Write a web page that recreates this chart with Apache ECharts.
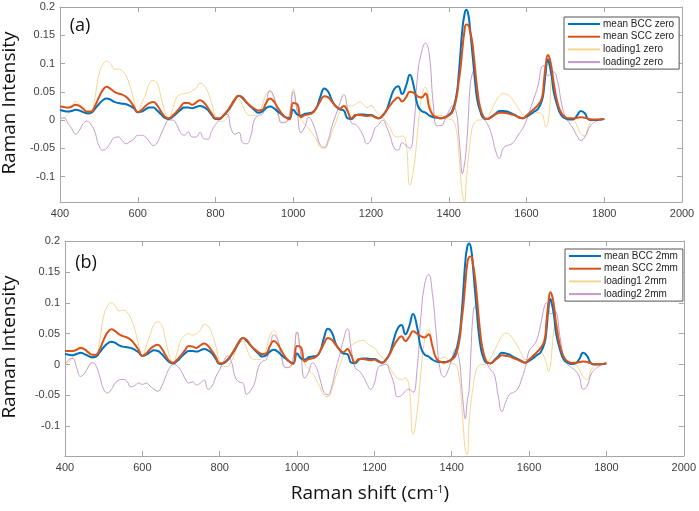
<!DOCTYPE html>
<html><head><meta charset="utf-8">
<script src="https://cdn.jsdelivr.net/npm/echarts@6/dist/echarts.min.js"></script>
<style>html,body{margin:0;padding:0;background:#fff}#c{width:699px;height:511px}</style>
</head><body><div id="c"></div>
<script>
// Raman shift grid (cm-1)
const shift = [
400,410,420,430,440,450,460,470,480,490,
500,510,520,530,540,550,560,570,580,590,
600,610,620,630,640,650,660,670,680,690,
700,710,720,730,740,750,760,770,780,790,
800,810,820,830,840,850,860,870,880,890,
900,910,920,930,940,950,960,970,980,990,
1000,1010,1020,1030,1040,1050,1060,1070,1080,1090,
1100,1110,1120,1130,1140,1150,1160,1170,1180,1190,
1200,1210,1220,1230,1240,1250,1260,1270,1280,1290,
1300,1310,1320,1330,1340,1350,1360,1370,1380,1390,
1400,1410,1420,1425,1430,1435,1440,1445,1450,1455,
1460,1465,1470,1475,1480,1490,
1500,1510,1520,1530,1540,1550,1560,1570,1580,1590,
1600,1610,1620,1630,1640,1645,1650,1655,1660,1665,
1670,1680,1690,1700,1710,1720,1730,1740,1750,1760,1770,1780,1790,1800];

// (a) zero
const meanBCCzero = [
0.018,0.016,0.015,0.016,0.018,0.017,0.014,0.012,0.013,0.020,
0.028,0.035,0.038,0.036,0.032,0.030,0.029,0.028,0.025,0.021,
0.014,0.015,0.019,0.022,0.022,0.017,0.010,0.004,0.002,0.006,
0.012,0.018,0.022,0.022,0.021,0.023,0.025,0.023,0.018,0.009,
0.002,0.002,0.007,0.015,0.025,0.036,0.043,0.038,0.031,0.024,
0.018,0.013,0.015,0.021,0.024,0.021,0.015,0.010,0.005,0.003,
0.018,0.010,0.008,0.011,0.012,0.014,0.022,0.042,0.056,0.050,
0.034,0.024,0.019,0.017,0.003,0.002,0.008,0.010,0.010,0.009,
0.009,0.006,0.003,0.008,0.018,0.038,0.055,0.060,0.046,0.060,
0.080,0.060,0.026,0.016,0.013,0.008,0.005,0.004,0.003,0.005,
0.009,0.018,0.045,0.075,0.118,0.160,0.185,0.195,0.188,0.160,
0.124,0.088,0.053,0.030,0.018,0.003,
0.002,0.006,0.011,0.016,0.016,0.015,0.012,0.009,0.005,0.003,
0.006,0.010,0.015,0.020,0.035,0.056,0.090,0.107,0.095,0.077,
0.050,0.024,0.008,0.003,0.001,0.001,0.008,0.016,0.012,0.001,0.000,0.000,0.001,0.002];
const meanSCCzero = [
0.024,0.023,0.022,0.024,0.027,0.025,0.020,0.015,0.015,0.025,
0.040,0.053,0.059,0.055,0.050,0.047,0.045,0.041,0.034,0.024,
0.014,0.018,0.025,0.030,0.032,0.026,0.015,0.006,0.003,0.008,
0.015,0.023,0.030,0.030,0.027,0.031,0.035,0.031,0.022,0.012,
0.003,0.003,0.008,0.016,0.026,0.037,0.043,0.040,0.031,0.025,
0.020,0.017,0.018,0.030,0.038,0.033,0.022,0.012,0.005,0.001,
0.030,0.028,0.005,0.009,0.010,0.013,0.022,0.034,0.042,0.040,
0.032,0.024,0.020,0.025,0.015,0.003,0.009,0.009,0.008,0.007,
0.008,0.005,0.003,0.008,0.017,0.027,0.035,0.040,0.033,0.040,
0.050,0.048,0.042,0.040,0.047,0.022,0.008,0.005,0.003,0.005,
0.008,0.015,0.040,0.065,0.090,0.125,0.155,0.169,0.168,0.156,
0.140,0.110,0.075,0.045,0.025,0.005,
0.002,0.005,0.010,0.013,0.013,0.012,0.010,0.008,0.005,0.003,
0.008,0.014,0.020,0.027,0.040,0.070,0.100,0.115,0.108,0.090,
0.065,0.030,0.012,0.005,0.003,0.003,0.004,0.005,0.004,0.002,0.001,0.001,0.001,0.002];
const loading1zero = [
0.001,0.004,0.010,0.022,0.033,0.028,0.015,0.010,0.012,0.040,
0.080,0.098,0.104,0.100,0.090,0.090,0.087,0.078,0.060,0.035,
0.013,0.030,0.045,0.065,0.070,0.065,0.040,0.015,0.003,0.020,
0.040,0.045,0.047,0.048,0.052,0.056,0.065,0.062,0.050,0.030,
0.005,-0.002,-0.002,0.005,0.020,0.032,0.037,0.025,0.012,0.008,
0.008,0.012,0.025,0.045,0.050,0.038,0.012,-0.003,-0.004,0.010,
0.055,0.020,0.002,-0.008,-0.015,-0.025,-0.035,-0.048,-0.050,-0.040,
-0.020,-0.003,0.015,0.025,0.025,0.025,0.028,0.032,0.028,0.022,
0.026,0.018,0.010,0.005,-0.005,-0.015,-0.028,-0.030,-0.028,-0.040,
-0.115,-0.085,-0.020,0.040,0.058,0.035,0.012,0.008,0.008,0.005,
0.002,0.000,-0.020,-0.050,-0.095,-0.130,-0.145,-0.110,-0.070,-0.038,
-0.015,-0.006,-0.002,0.000,0.000,0.002,
0.005,0.018,0.032,0.042,0.047,0.045,0.040,0.030,0.020,0.010,
0.006,0.010,0.012,0.013,0.010,0.000,-0.012,-0.005,0.025,0.075,
0.070,0.025,0.010,0.004,0.001,0.000,-0.010,-0.025,-0.028,-0.010,-0.002,0.000,0.001,0.002];
const loading2zero = [
0.003,0.004,-0.005,-0.015,-0.025,-0.018,-0.006,-0.002,-0.008,-0.022,
-0.045,-0.053,-0.050,-0.040,-0.031,-0.030,-0.036,-0.042,-0.038,-0.034,
-0.027,-0.027,-0.030,-0.038,-0.045,-0.040,-0.025,-0.010,0.000,0.000,
-0.008,-0.022,-0.027,-0.021,-0.030,-0.030,-0.022,-0.033,-0.034,-0.020,
-0.008,0.000,0.008,0.010,-0.015,-0.025,-0.022,-0.040,-0.042,-0.030,
0.000,0.008,0.010,0.030,0.052,0.042,0.015,-0.005,-0.004,0.008,
0.050,0.015,-0.022,-0.012,0.005,-0.005,-0.025,-0.045,-0.048,-0.035,
-0.010,0.010,0.030,0.045,0.020,-0.005,-0.008,-0.015,-0.028,-0.042,
-0.035,-0.015,-0.008,0.000,-0.012,-0.030,-0.050,-0.053,-0.040,-0.045,
-0.050,-0.012,0.080,0.120,0.136,0.115,0.030,-0.010,-0.010,0.000,
0.015,0.025,0.012,-0.020,-0.060,-0.095,-0.080,-0.050,0.000,0.060,
0.080,0.088,0.075,0.050,0.020,0.003,
-0.008,-0.025,-0.053,-0.068,-0.050,-0.045,-0.043,-0.036,-0.025,-0.015,
0.000,0.020,0.040,0.062,0.095,0.096,0.090,0.078,0.080,0.085,
0.085,0.068,0.030,0.005,-0.005,-0.015,-0.028,-0.036,-0.030,-0.015,-0.006,-0.002,0.000,0.001];

// (b) 2mm
const meanBCC2mm = [
0.017,0.016,0.015,0.017,0.019,0.017,0.014,0.012,0.013,0.020,
0.028,0.034,0.037,0.035,0.031,0.029,0.028,0.027,0.024,0.020,
0.014,0.016,0.020,0.023,0.022,0.017,0.010,0.004,0.002,0.006,
0.012,0.018,0.022,0.022,0.021,0.023,0.025,0.023,0.018,0.009,
0.001,0.002,0.007,0.015,0.025,0.036,0.043,0.038,0.031,0.024,
0.018,0.013,0.015,0.021,0.024,0.021,0.015,0.010,0.005,0.002,
0.018,0.010,0.008,0.012,0.013,0.014,0.022,0.044,0.058,0.052,
0.034,0.024,0.018,0.017,0.003,0.002,0.008,0.010,0.010,0.009,
0.009,0.006,0.003,0.008,0.018,0.040,0.058,0.064,0.049,0.062,
0.082,0.062,0.028,0.016,0.013,0.008,0.005,0.004,0.004,0.005,
0.009,0.020,0.048,0.078,0.120,0.165,0.190,0.196,0.188,0.158,
0.120,0.085,0.050,0.028,0.015,0.003,
0.002,0.007,0.013,0.019,0.018,0.016,0.012,0.009,0.006,0.003,
0.006,0.010,0.015,0.020,0.035,0.056,0.090,0.106,0.095,0.077,
0.050,0.024,0.008,0.003,0.001,0.002,0.009,0.019,0.014,0.002,0.000,0.000,0.001,0.002];
const meanSCC2mm = [
0.022,0.022,0.022,0.024,0.027,0.025,0.020,0.016,0.016,0.025,
0.040,0.052,0.057,0.054,0.049,0.046,0.044,0.040,0.033,0.024,
0.014,0.018,0.025,0.030,0.032,0.026,0.015,0.006,0.003,0.008,
0.015,0.023,0.030,0.029,0.027,0.031,0.034,0.030,0.022,0.012,
0.002,0.003,0.008,0.016,0.026,0.037,0.043,0.040,0.031,0.025,
0.020,0.017,0.018,0.030,0.038,0.033,0.022,0.012,0.005,0.001,
0.030,0.028,0.005,0.009,0.010,0.013,0.022,0.034,0.043,0.040,
0.032,0.024,0.020,0.025,0.015,0.003,0.009,0.009,0.008,0.007,
0.008,0.005,0.003,0.008,0.017,0.030,0.040,0.046,0.038,0.045,
0.054,0.050,0.046,0.044,0.049,0.030,0.010,0.005,0.003,0.005,
0.008,0.015,0.040,0.068,0.095,0.130,0.162,0.174,0.175,0.162,
0.142,0.110,0.075,0.045,0.025,0.005,
0.002,0.006,0.011,0.015,0.014,0.013,0.010,0.008,0.005,0.003,
0.008,0.014,0.020,0.027,0.040,0.070,0.100,0.117,0.110,0.092,
0.066,0.030,0.012,0.005,0.003,0.003,0.004,0.005,0.004,0.002,0.001,0.001,0.001,0.002];
const loading12mm = [
0.000,0.004,0.012,0.024,0.030,0.026,0.015,0.010,0.012,0.040,
0.078,0.095,0.100,0.095,0.087,0.088,0.085,0.075,0.058,0.033,
0.013,0.030,0.048,0.065,0.069,0.064,0.040,0.015,0.003,0.020,
0.040,0.047,0.050,0.048,0.050,0.056,0.065,0.062,0.050,0.030,
0.004,-0.003,-0.003,0.005,0.020,0.033,0.038,0.025,0.012,0.008,
0.008,0.012,0.025,0.047,0.055,0.040,0.012,-0.004,-0.005,0.010,
0.052,0.020,0.002,-0.008,-0.015,-0.025,-0.037,-0.050,-0.052,-0.040,
-0.020,-0.003,0.015,0.025,0.030,0.035,0.038,0.039,0.035,0.030,
0.027,0.018,0.012,0.005,-0.005,-0.015,-0.022,-0.024,-0.022,-0.038,
-0.113,-0.080,-0.015,0.040,0.057,0.030,0.012,0.010,0.012,0.008,
0.002,0.000,-0.025,-0.060,-0.100,-0.138,-0.146,-0.092,-0.060,-0.038,
-0.018,-0.006,-0.002,0.000,0.000,0.002,
0.010,0.022,0.035,0.046,0.051,0.048,0.040,0.030,0.018,0.008,
0.008,0.012,0.015,0.019,0.011,0.002,-0.011,-0.003,0.030,0.060,
0.068,0.030,0.010,0.004,0.001,0.000,-0.008,-0.020,-0.024,-0.010,-0.002,0.000,0.001,0.002];
const loading22mm = [
0.000,0.008,0.010,-0.005,-0.019,-0.015,-0.004,0.003,-0.002,-0.020,
-0.040,-0.046,-0.040,-0.030,-0.025,-0.024,-0.027,-0.036,-0.034,-0.030,
-0.032,-0.030,-0.035,-0.040,-0.043,-0.035,-0.020,-0.006,0.000,-0.002,
-0.010,-0.022,-0.030,-0.028,-0.033,-0.030,-0.025,-0.040,-0.035,-0.020,
-0.008,0.005,0.014,0.005,-0.020,-0.028,-0.030,-0.048,-0.042,-0.030,
-0.005,0.005,0.008,0.028,0.048,0.040,0.012,-0.005,-0.004,0.010,
0.053,0.015,-0.022,-0.012,0.003,-0.005,-0.025,-0.045,-0.049,-0.035,
-0.008,0.015,0.040,0.058,0.025,-0.005,-0.010,-0.018,-0.030,-0.040,
-0.030,-0.005,-0.001,0.000,-0.012,-0.030,-0.052,-0.050,-0.043,-0.040,
-0.045,-0.010,0.075,0.130,0.146,0.115,0.050,-0.008,-0.020,-0.010,
0.008,0.025,0.005,-0.030,-0.065,-0.088,-0.060,-0.040,0.025,0.080,
0.094,0.090,0.070,0.045,0.027,0.005,
-0.008,-0.016,-0.050,-0.076,-0.060,-0.048,-0.045,-0.040,-0.025,-0.005,
0.022,0.030,0.040,0.065,0.095,0.100,0.092,0.082,0.083,0.086,
0.085,0.045,0.012,0.000,-0.005,-0.010,-0.020,-0.040,-0.035,-0.016,-0.008,-0.003,0.000,0.001];

const yTicks = [-0.1,-0.05,0,0.05,0.1,0.15,0.2];
const namesA = ['mean BCC zero','mean SCC zero','loading1 zero','loading2 zero'];
const namesB = ['mean BCC 2mm','mean SCC 2mm','loading1 2mm','loading2 2mm'];

const zip = arr => shift.map((x,i)=>[x, arr[i]]);
const C = {blue:'#0072BD', orange:'#D95319', yellow:'#F6D58C', purple:'#C59ACC'};
const frame = '#a6a6a6';
const fam = 'Liberation Sans, Arial, sans-serif';

function xAx(g, pos, labels){
  return {type:'value', gridIndex:g, position:pos, min:400, max:2000, interval:200,
    axisLine:{show:true, onZero:false, lineStyle:{color:frame, width:1}},
    axisTick:{show:true, inside:true, length:5, lineStyle:{color:frame}},
    axisLabel:{show:labels, color:'#404040', fontSize:11, fontFamily:fam, margin:6, formatter:v=>String(v)},
    splitLine:{show:false}};
}
function yAx(g, pos, labels, mn){
  return {type:'value', gridIndex:g, position:pos, min:mn, max:0.2,
    axisLine:{show:true, onZero:false, lineStyle:{color:frame, width:1}},
    axisTick:{show:true, inside:true, length:5, lineStyle:{color:frame}, customValues:yTicks},
    axisLabel:{show:labels, color:'#404040', fontSize:11, fontFamily:fam, margin:5, customValues:yTicks,
      formatter:v=>String(parseFloat(Number(v).toFixed(2)))},
    splitLine:{show:false}};
}
function ser(name, arr, color, w, xi, yi, z){
  return {name, type:'line', xAxisIndex:xi, yAxisIndex:yi, data:zip(arr), symbol:'none',
    smooth:0.5, z:z, lineStyle:{color, width:w}, itemStyle:{color}, clip:true};
}
const legendBase = {orient:'vertical', itemWidth:32, itemHeight:10, itemGap:2.7,
  padding:[2,5,2,3], borderColor:'#555', borderWidth:1, borderRadius:0, backgroundColor:'#fff',
  itemStyle:{opacity:0},
  textStyle:{fontSize:10, fontFamily:fam, color:'#222', lineHeight:10, padding:[0,0,0,-2]}, selectedMode:false};

const chart = echarts.init(document.getElementById('c'), null, {renderer:'canvas'});
chart.setOption({
  animation:false,
  backgroundColor:'#fff',
  grid:[{left:60, top:7, width:622, height:195},
        {left:65, top:241, width:620, height:215}],
  xAxis:[xAx(0,'bottom',true), xAx(0,'top',false), xAx(1,'bottom',true), xAx(1,'top',false)],
  yAxis:[yAx(0,'left',true,-0.145), yAx(0,'right',false,-0.145), yAx(1,'left',true,-0.148), yAx(1,'right',false,-0.148)],
  legend:[Object.assign({}, legendBase, {left:564, top:17, data:namesA}),
          Object.assign({}, legendBase, {left:565, top:249, data:namesB})],
  series:[
    ser(namesA[2], loading1zero, C.yellow, 1, 0, 0, 1),
    ser(namesA[3], loading2zero, C.purple, 1, 0, 0, 2),
    ser(namesA[0], meanBCCzero, C.blue, 2, 0, 0, 3),
    ser(namesA[1], meanSCCzero, C.orange, 2, 0, 0, 4),
    ser(namesB[2], loading12mm, C.yellow, 1, 2, 2, 1),
    ser(namesB[3], loading22mm, C.purple, 1, 2, 2, 2),
    ser(namesB[0], meanBCC2mm, C.blue, 2, 2, 2, 3),
    ser(namesB[1], meanSCC2mm, C.orange, 2, 2, 2, 4)
  ],
  graphic:[
    {type:'text', x:10, y:103, rotation:Math.PI/2, style:{text:'Raman Intensity', font:'19px "Open Sans"', fill:'#111', align:'center', verticalAlign:'middle'}},
    {type:'text', x:10, y:347, rotation:Math.PI/2, style:{text:'Raman Intensity', font:'19px "Open Sans"', fill:'#111', align:'center', verticalAlign:'middle'}},
    {type:'text', x:80, y:26, style:{text:'(a)', font:'18px "Open Sans"', fill:'#111', align:'center', verticalAlign:'middle'}},
    {type:'text', x:86, y:263, style:{text:'(b)', font:'18px "Open Sans"', fill:'#111', align:'center', verticalAlign:'middle'}},
    {type:'text', x:370, y:494, style:{text:'Raman shift (cm{s|-1})', rich:{s:{fontSize:11, verticalAlign:'top', padding:[0,0,9,0], fontFamily:'Open Sans', fill:'#111'}},
      fontSize:19, fontFamily:'Open Sans', fill:'#111', align:'center', verticalAlign:'middle'}}
  ]
});
</script></body></html>
